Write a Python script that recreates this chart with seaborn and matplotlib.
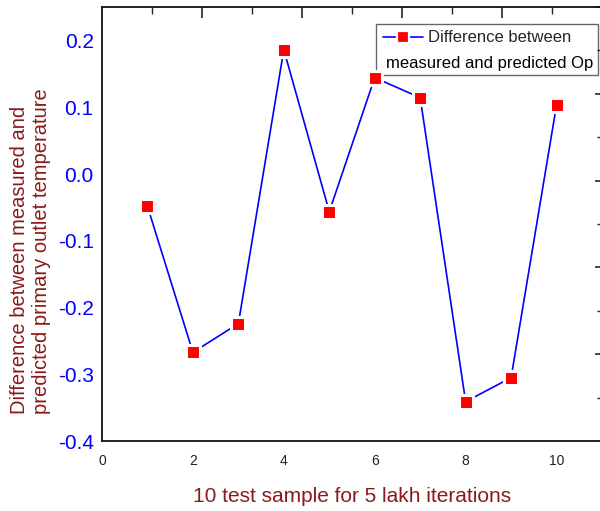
import numpy as np
import pandas as pd
import seaborn as sns
import matplotlib.pyplot as plt
from matplotlib.ticker import MultipleLocator
from matplotlib.patches import Rectangle

# test sample number and difference values
samples = [1, 2, 3, 4, 5, 6, 7, 8, 9, 10]
difference = [-0.048, -0.267, -0.224, 0.187, -0.056, 0.145, 0.115, -0.341, -0.305, 0.104]

df = pd.DataFrame({"sample": samples, "diff": difference})

sns.set_style("white")
plt.rcParams['font.family'] = ['Liberation Sans', 'DejaVu Sans']

W, H = 600, 511
fig = plt.figure(figsize=(W / 100, H / 100), dpi=100)
pos = [102 / W, (H - 441) / H, 500 / W, 434 / H]
ax = fig.add_axes(pos)

sns.lineplot(data=df, x="sample", y="diff", ax=ax, color="blue", linewidth=1.2,
             marker="s", markersize=10, markerfacecolor="red",
             markeredgecolor="white", markeredgewidth=2.2,
             label="Difference between", zorder=5)

ax.set_xlim(0, 11)
ax.set_ylim(-0.4, 0.251)
ax.xaxis.set_major_locator(MultipleLocator(2))
ax.xaxis.set_minor_locator(MultipleLocator(1))
ax.yaxis.set_major_locator(MultipleLocator(0.1))
ax.yaxis.set_minor_locator(MultipleLocator(0.05))
ax.yaxis.set_major_formatter(plt.FuncFormatter(lambda v, p: f"{v:.1f}"))

ax.tick_params(axis="x", which="major", direction="out", length=4.5, width=1.2,
               labelsize=10, labelcolor="#222222", pad=5)
ax.tick_params(axis="x", which="minor", direction="out", length=3.5, width=1.0)
ax.tick_params(axis="y", which="major", direction="in", length=6, width=1.2,
               labelsize=15, labelcolor="blue", pad=6)
ax.tick_params(axis="y", which="minor", direction="in", length=3, width=1.0)

for side in ["left", "bottom"]:
    ax.spines[side].set_color("#111111")
    ax.spines[side].set_linewidth(1.3)
ax.spines["top"].set_visible(False)
ax.spines["right"].set_visible(False)

ax.set_xlabel("")
ax.set_ylabel("")

# second layer frame: top and right with their own ticks, no labels
ax2 = fig.add_axes(pos, facecolor="none")
ax2.set_xlim(0, 5)
ax2.set_ylim(0, 5)
ax2.xaxis.set_major_locator(MultipleLocator(1))
ax2.xaxis.set_minor_locator(MultipleLocator(0.5))
ax2.yaxis.set_major_locator(MultipleLocator(1))
ax2.yaxis.set_minor_locator(MultipleLocator(0.5))
ax2.xaxis.tick_top()
ax2.yaxis.tick_right()
ax2.tick_params(axis="x", which="major", direction="in", length=8, width=1.2, labeltop=False)
ax2.tick_params(axis="x", which="minor", direction="in", length=5, width=1.0)
ax2.tick_params(axis="y", which="major", direction="in", length=5, width=1.2, labelright=False)
ax2.tick_params(axis="y", which="minor", direction="in", length=3.5, width=1.0)
ax2.spines["left"].set_visible(False)
ax2.spines["bottom"].set_visible(False)
for side in ["top", "right"]:
    ax2.spines[side].set_color("#111111")
    ax2.spines[side].set_linewidth(1.3)

# legend: handle + first line, second line wraps under the handle
ax.add_patch(Rectangle((376 / W, 1 - 75 / H), 222 / W, 51 / H,
                       transform=fig.transFigure, clip_on=False, facecolor="white",
                       edgecolor="#666666", linewidth=1.0, zorder=4))
leg = ax.legend(loc="center left", bbox_to_anchor=(383 / W, 1 - 38 / H),
                bbox_transform=fig.transFigure, fontsize=12, frameon=False,
                borderpad=0, borderaxespad=0, handlelength=2.4, handletextpad=0.3)
leg.legend_handles[0].set_markersize(8)
leg.legend_handles[0].set_markeredgewidth(1.6)
leg.set_zorder(6)
ax.text(386 / W, 1 - 68 / H, "measured and predicted Op", ha="left", va="baseline",
        fontsize=12, color="black", transform=fig.transFigure, zorder=6)

red = "#8B1A1A"
fig.text(352 / W, 1 - 496 / H, "10 test sample for 5 lakh iterations",
         ha="center", va="center", fontsize=15, color=red)
fig.text(31 / W, 1 - 251 / H,
         "Difference between measured and\npredicted primary outlet temperature",
         ha="center", va="center", rotation=90, fontsize=14.5, color=red,
         linespacing=1.2, multialignment="left")

fig.savefig("out.png", dpi=100)
